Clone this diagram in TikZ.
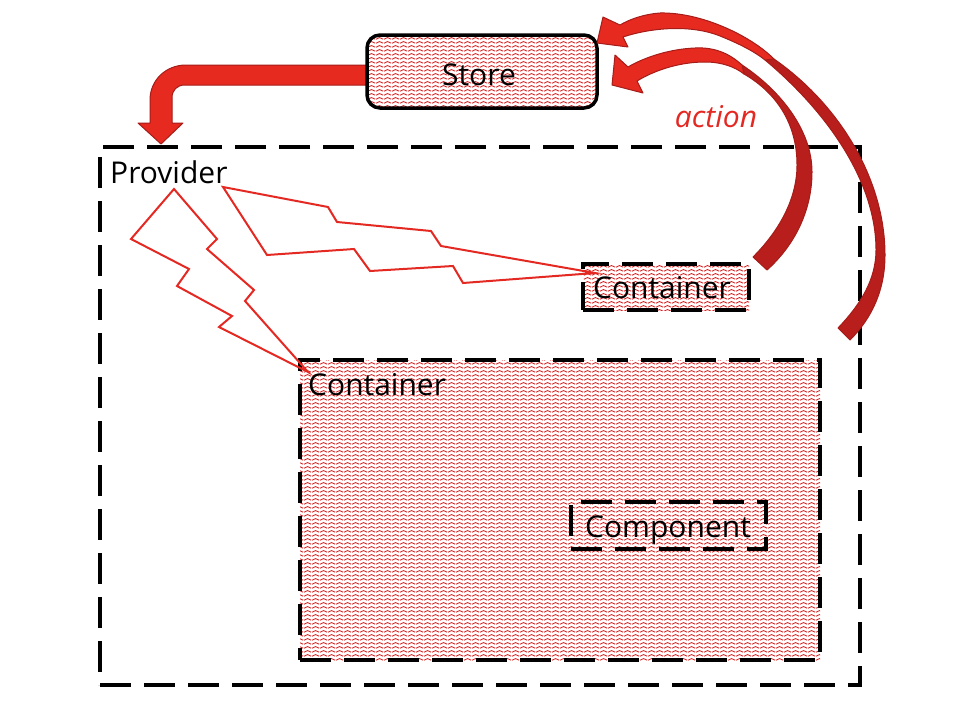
\documentclass[tikz,border=0pt]{standalone}
\usepackage{fontspec}
\setmainfont{Open Sans}
\usetikzlibrary{patterns.meta}

\definecolor{arrowred}{RGB}{230,42,32}
\definecolor{arrowdark}{RGB}{183,30,28}
\definecolor{arrowedge}{RGB}{165,28,24}
\definecolor{boltred}{RGB}{228,40,34}
\definecolor{patred}{RGB}{226,30,30}

% small red zigzag texture used to fill the boxes
\pgfdeclarepattern{
  name=zigzag,
  type=uncolored,
  bottom left={\pgfpoint{0pt}{0pt}},
  top right={\pgfpoint{8pt}{4pt}},
  tile size={\pgfpoint{8pt}{4pt}},
  code={
    \pgfsetlinewidth{1pt}
    \pgfpathmoveto{\pgfpoint{0pt}{1pt}}
    \pgfpathlineto{\pgfpoint{4pt}{3pt}}
    \pgfpathlineto{\pgfpoint{8pt}{1pt}}
    \pgfusepath{stroke}
  }
}

\tikzset{
  zig/.style={preaction={fill=white}, pattern=zigzag, pattern color=patred},
  dashbox/.style={draw=black, line width=3.3pt, dash pattern=on 31pt off 13pt, inner sep=0pt},
  storebox/.style={draw=black, line width=3.5pt, rounded corners=13pt, zig, inner sep=0pt},
  label/.style={inner sep=0pt},
  bolt/.style={draw=boltred, line width=2pt, line join=miter},
  arrowfront/.style={fill=arrowred, draw=arrowedge, line width=1pt, line join=round},
  arrowback/.style={fill=arrowdark, draw=arrowedge, line width=1pt, line join=round},
}

\begin{document}
\begin{tikzpicture}[x=1pt, y=-1pt, font=\fontsize{30}{36}\selectfont]
\useasboundingbox (0,0) rectangle (960,720);

% provider frame and its label
\node[dashbox, minimum width=760pt, minimum height=538pt] (providerbox) at (480,416) {};
\node[label, anchor=base west] (provider) at (110,183) {Provider};

% containers and the component
\node[dashbox, zig, minimum width=520pt, minimum height=300pt] (bigcontainer) at (560,510) {};
\node[label, anchor=base west] (bigcontainerlabel) at (308,395) {Container};
\node[dashbox, zig, minimum width=195pt, minimum height=47pt] (component) at (668.5,525.5) {};
\node[label, anchor=base] (componentlabel) at (668,537) {Component};
\node[dashbox, zig, minimum width=166pt, minimum height=46pt] (smallcontainer) at (666,287) {};
\node[label, anchor=base] (smallcontainerlabel) at (662,298) {Container};

% lightning bolts from the provider to both containers
\draw[bolt] (174,189) -- (217,239) -- (207,249) -- (254,290) -- (245,301) -- (308,372)
  -- (219,327) -- (232,316) -- (177,286) -- (189,269) -- (131,239) -- cycle;
\draw[bolt] (223,187) -- (328,207) -- (337,222) -- (431,231) -- (441,246) -- (595,273)
  -- (463,283) -- (453,266) -- (370,271) -- (354,249) -- (267,255) -- cycle;

% bent arrow from the store down into the provider
\filldraw[arrowfront] (367,65) -- (186,65) .. controls (166,65) and (150,80) .. (150,100)
  -- (150,123) -- (138,123) -- (161,144) -- (183,123) -- (172,123) -- (172,98)
  .. controls (172,90) and (177,85) .. (185,85) -- (367,85) -- cycle;

% store
\node[storebox, minimum width=230pt, minimum height=73pt] (store) at (482,71.5) {};
\node[label, anchor=base] (storelabel) at (479,85) {Store};

% curved arrow from the small container back to the store
\filldraw[arrowback] (742,65) .. controls (780,90) and (812,130) .. (812,172)
  .. controls (812,210) and (795,245) .. (767,270) -- (753,257)
  .. controls (778,232) and (797,200) .. (797,165)
  .. controls (797,122) and (775,92) .. (744,74) -- cycle;
\filldraw[arrowfront] (612,85) -- (643,93) -- (637,81)
  .. controls (655,70) and (680,62) .. (705,62)
  .. controls (722,62) and (735,67) .. (744,74) -- (742,65)
  .. controls (728,52) and (712,47) .. (695,48)
  .. controls (670,49) and (645,57) .. (628,67) -- (615,55) -- cycle;

% curved arrow from the outer edge back to the store
\filldraw[arrowback] (774,59) .. controls (840,105) and (885,180) .. (885,255)
  .. controls (885,290) and (872,318) .. (850,340) -- (838,328)
  .. controls (860,305) and (876,280) .. (876,250)
  .. controls (876,180) and (825,110) .. (765,60) -- cycle;
\filldraw[arrowfront] (597,43) -- (628,47) -- (623,37)
  .. controls (650,28) and (690,24) .. (720,36)
  .. controls (740,44) and (755,52) .. (765,60) -- (774,59)
  .. controls (750,35) and (700,12) .. (660,13)
  .. controls (645,14) and (630,19) .. (620,25) -- (603,17) -- cycle;

% action label
\node[label, anchor=base, text=boltred, font=\fontsize{30}{36}\selectfont\itshape] (action) at (716,127) {action};
\end{tikzpicture}
\end{document}
